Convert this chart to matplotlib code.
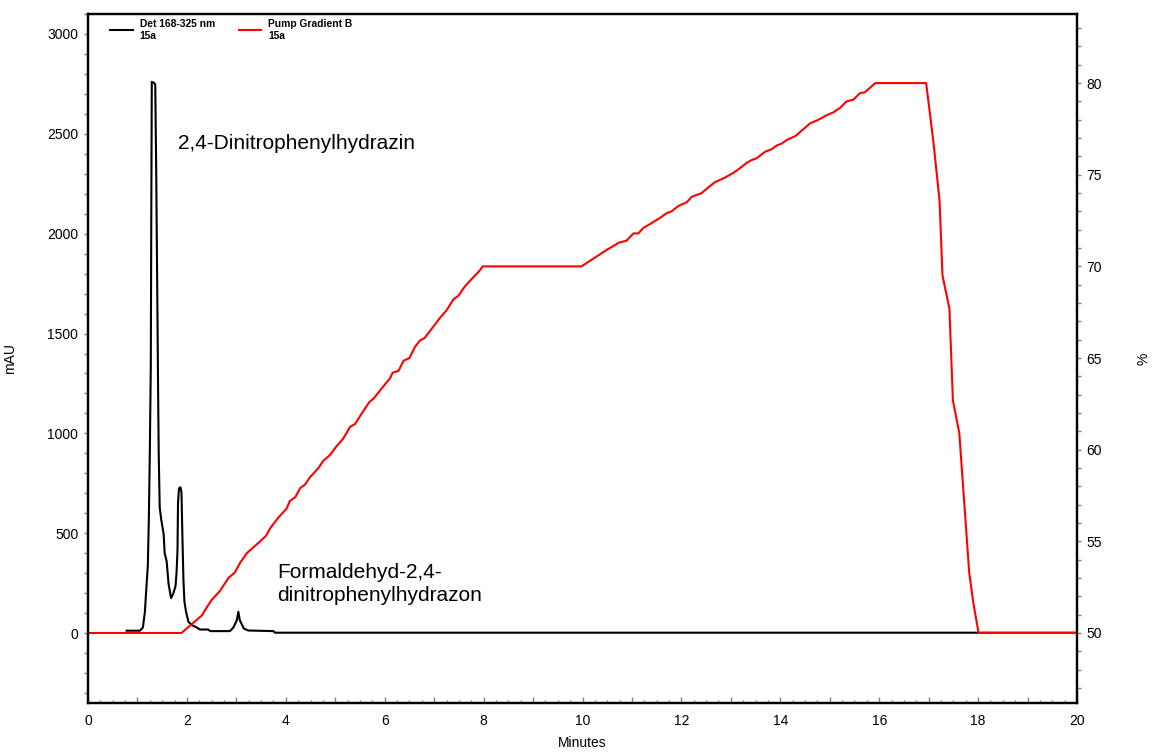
import matplotlib
matplotlib.use("Agg")
import matplotlib.pyplot as plt
from matplotlib.ticker import MultipleLocator, FuncFormatter

plt.rcParams['font.family'] = ['Liberation Sans', 'DejaVu Sans']

# Detector trace (Det 168-325 nm), minutes vs mAU
det_time = [0.78, 1.05, 1.11, 1.15, 1.18, 1.21, 1.23, 1.25, 1.27, 1.28, 1.29,
            1.34, 1.36, 1.38, 1.40, 1.42, 1.43, 1.45, 1.48, 1.53, 1.55, 1.59,
            1.63, 1.68, 1.72, 1.77, 1.79, 1.81, 1.82, 1.84, 1.87, 1.89, 1.91,
            1.93, 1.95, 1.98, 2.03, 2.10, 2.20, 2.26, 2.43, 2.47, 2.87, 2.94,
            3.01, 3.04, 3.07, 3.15, 3.24, 3.75, 3.78, 20.0]
det_mau = [12, 12, 28, 105, 225, 340, 570, 900, 1340, 2110, 2760,
           2755, 2745, 2300, 1725, 1150, 900, 630, 570, 495, 400, 360,
           245, 175, 195, 235, 300, 415, 650, 725, 730, 705, 475,
           265, 158, 110, 57, 40, 28, 18, 18, 10, 10, 28,
           65, 107, 65, 23, 13, 10, 2, 2]

# Pump gradient B (%), minutes vs percent
grad_time = [0.0, 1.89, 2.30, 2.39, 2.50, 2.67, 2.84, 2.97, 3.07, 3.21, 3.44,
             3.60, 3.68, 3.85, 4.02, 4.08, 4.19, 4.29, 4.39, 4.49, 4.66, 4.76,
             4.89, 5.03, 5.16, 5.30, 5.40, 5.53, 5.69, 5.78, 5.94, 6.11, 6.16,
             6.28, 6.38, 6.50, 6.61, 6.71, 6.81, 6.98, 7.12, 7.25, 7.39, 7.49,
             7.62, 7.72, 7.93, 7.98, 9.98, 10.15, 10.32, 10.49, 10.74, 10.89,
             11.03, 11.13, 11.23, 11.36, 11.57, 11.70, 11.80, 11.94, 12.11,
             12.21, 12.41, 12.54, 12.68, 12.85, 13.05, 13.18, 13.32, 13.42,
             13.52, 13.69, 13.83, 13.93, 14.03, 14.13, 14.30, 14.43, 14.60,
             14.77, 14.94, 15.07, 15.21, 15.34, 15.48, 15.61, 15.71, 15.92,
             16.95, 17.10, 17.22, 17.28, 17.42, 17.49, 17.62, 17.82, 17.90,
             18.01, 20.0]
grad_pct = [50.0, 50.0, 50.95, 51.35, 51.8, 52.3, 53.0, 53.3, 53.8, 54.35, 54.9,
            55.3, 55.7, 56.3, 56.8, 57.2, 57.4, 57.9, 58.1, 58.5, 59.0, 59.4,
            59.7, 60.2, 60.6, 61.25, 61.4, 61.95, 62.6, 62.8, 63.35, 63.9, 64.2,
            64.3, 64.85, 65.0, 65.6, 65.95, 66.1, 66.7, 67.2, 67.6, 68.2, 68.4,
            68.9, 69.2, 69.8, 70.0, 70.0, 70.3, 70.6, 70.9, 71.3, 71.4,
            71.8, 71.8, 72.1, 72.3, 72.65, 72.9, 73.0, 73.3, 73.5,
            73.8, 74.0, 74.3, 74.6, 74.8, 75.1, 75.35, 75.65, 75.8,
            75.9, 76.25, 76.4, 76.6, 76.7, 76.9, 77.1, 77.4, 77.8,
            78.0, 78.25, 78.4, 78.65, 79.0, 79.1, 79.45, 79.5, 80.0,
            80.0, 76.7, 73.6, 69.5, 67.7, 62.7, 60.9, 53.3, 51.7,
            50.0, 50.0]

legend_labels = ["Det 168-325 nm\n15a", "Pump Gradient B\n15a"]
peak_labels = ["2,4-Dinitrophenylhydrazin", "Formaldehyd-2,4-\ndinitrophenylhydrazon"]

W, H = 1153, 752
fig = plt.figure(figsize=(W / 100, H / 100), dpi=100)
ax = fig.add_axes([88 / W, 1 - 703 / H, (1077 - 88) / W, (703 - 14) / H])
ax2 = ax.twinx()

l1, = ax.plot(det_time, det_mau, color='black', lw=1.5)
l2, = ax2.plot(grad_time, grad_pct, color='#ff0000', lw=1.5)

ax.set_xlim(0, 20)
ax.set_ylim(-350, 3100)
ax2.set_ylim(46.18, 83.77)

tick_gray = '#808080'
ax.xaxis.set_major_locator(MultipleLocator(1))
ax.xaxis.set_minor_locator(MultipleLocator(0.25))
ax.xaxis.set_major_formatter(FuncFormatter(lambda v, p: f"{v:.0f}" if round(v) % 2 == 0 else ""))
ax.tick_params(axis='x', which='major', direction='in', length=4, width=1,
               color=tick_gray, labelsize=10, pad=8)
ax.tick_params(axis='x', which='minor', direction='in', length=2.5, width=1,
               color=tick_gray)
ax.yaxis.set_major_locator(MultipleLocator(500))
ax.yaxis.set_minor_locator(MultipleLocator(100))
ax.tick_params(axis='y', which='both', direction='out', length=3, width=1,
               color=tick_gray, labelsize=10, pad=4)
ax2.yaxis.set_major_locator(MultipleLocator(5))
ax2.yaxis.set_minor_locator(MultipleLocator(1))
ax2.tick_params(axis='y', which='both', direction='out', length=3, width=1,
                color=tick_gray, labelsize=10, pad=4)
ax2.tick_params(axis='x', which='both', bottom=False)

for a in (ax, ax2):
    for s in a.spines.values():
        s.set_linewidth(1.6)
        s.set_color('black')

ax.set_xlabel("Minutes", fontsize=10, labelpad=6)
ax.set_ylabel("mAU", fontsize=10, labelpad=22)
ax2.set_ylabel("%", fontsize=10, labelpad=25)

ax.text(1.82, 2454, peak_labels[0], fontsize=15, va='center', ha='left')
ax.text(3.82, 245, peak_labels[1], fontsize=15, va='center', ha='left',
        linespacing=1.25)

leg = ax2.legend([l1, l2], legend_labels, loc='upper left',
                 bbox_to_anchor=((110 - 88) / 989, 1 - (19 - 14) / 689),
                 ncol=2, frameon=False, borderpad=0, borderaxespad=0,
                 handlelength=2.2, handletextpad=0.7, columnspacing=2.3,
                 prop={'size': 7.4, 'weight': 'bold'})

fig.savefig("out.png", dpi=100)
